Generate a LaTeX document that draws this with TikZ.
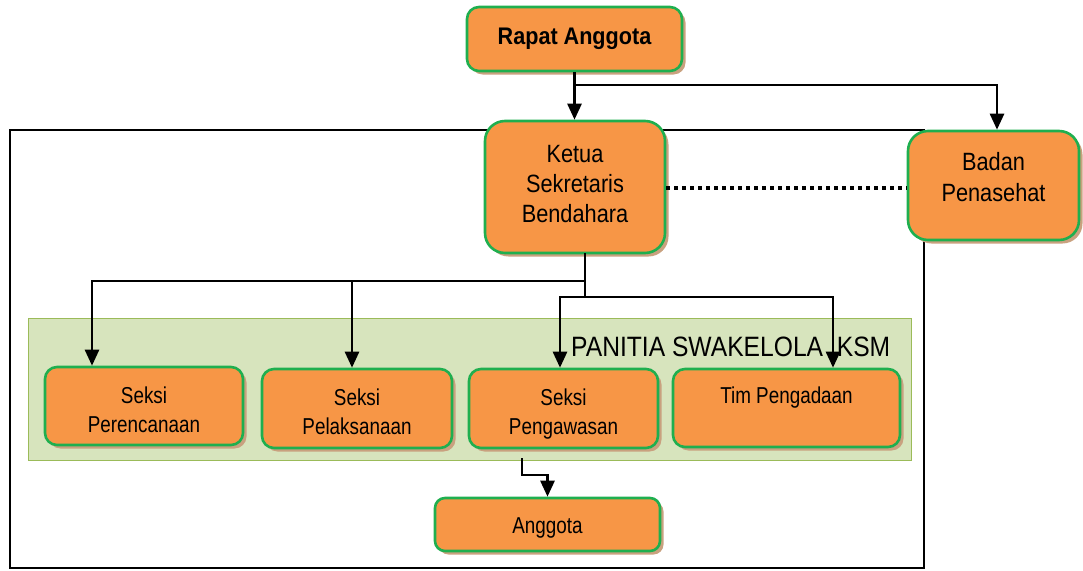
\documentclass[tikz,border=0pt]{standalone}
\usepackage{fontspec}
\setmainfont{Liberation Sans}[FakeStretch=0.82]
\newfontfamily\bigfont{Liberation Sans}[FakeStretch=0.87]
\newfontfamily\boldfont{Liberation Sans}[FakeStretch=0.9]
\newfontfamily\widefont{Liberation Sans}[FakeStretch=0.88]
\usetikzlibrary{shadows,arrows.meta}
\definecolor{boxfill}{HTML}{F79646}
\definecolor{boxline}{HTML}{1FAF4F}
\definecolor{shad}{HTML}{C9A17F}
\definecolor{panelfill}{HTML}{D7E4BD}
\definecolor{panelline}{HTML}{9BBB59}
\newcommand\tst[1]{\rule{0pt}{#1pt}}
\newcommand\bst[1]{\rule[-#1pt]{0pt}{0pt}}
\begin{document}
\begin{tikzpicture}[x=1pt,y=-1pt,
  box/.style={draw=boxline, line width=2.6pt, fill=boxfill, rounded corners=#1,
    drop shadow={shadow xshift=3.5pt, shadow yshift=-3.5pt, fill=shad, opacity=1},
    inner sep=0pt, align=center, text=black},
  box/.default=12pt,
  small/.style={font=\fontsize{23}{29}\selectfont},
  big/.style={font=\bigfont\fontsize{25}{30}\selectfont},
  panel/.style={draw=panelline, line width=0.8pt, fill=panelfill, inner sep=0pt},
  conn/.style={line width=2.6pt, black},
  arr/.style={conn, -{Triangle[width=14pt,length=16pt]}},
  dots/.style={line width=4pt, dash pattern=on 4pt off 4pt}
]
\useasboundingbox (0,0) rectangle (1083,570);
% outer frame
\draw[line width=1.3pt] (10,130) rectangle (924,568);
% panel
\node[panel, minimum width=883pt, minimum height=142pt] (panel) at (469.5,389) {};
\node[anchor=base west, inner sep=0pt, font=\widefont\fontsize{28}{30}\selectfont] (paneltxt) at (571,356) {PANITIA SWAKELOLA \ KSM};
% nodes
\node[box, minimum width=215pt, minimum height=64pt, font=\boldfont\bfseries\fontsize{24}{28}\selectfont, text height=20pt, text depth=10pt] (rapat) at (574.5,39) {Rapat Anggota};
\node[box=20pt, big, minimum width=180pt, minimum height=132pt] (ketua) at (575,187) {\tst{24}Ketua\\Sekretaris\\Bendahara\bst{14}};
\node[box=20pt, big, minimum width=171pt, minimum height=109pt, font=\bigfont\fontsize{25}{31.5}\selectfont] (badan) at (993.5,185.5) {\tst{20}Badan\\Penasehat\bst{19}};
\node[box, small, minimum width=198pt, minimum height=78pt] (perenc) at (144,406) {\tst{28}Seksi\\Perencanaan\bst{5}};
\node[box, small, minimum width=190pt, minimum height=79pt] (pelak) at (357,408.5) {\tst{28}Seksi\\Pelaksanaan\bst{5}};
\node[box, small, minimum width=189pt, minimum height=79pt] (pengaw) at (563.5,408.5) {\tst{28}Seksi\\Pengawasan\bst{5}};
\node[box, small, minimum width=227pt, minimum height=78pt, text height=17.5pt, text depth=26.5pt] (tim) at (786.5,408) {Tim Pengadaan};
\node[box=10pt, small, minimum width=225pt, minimum height=53pt, text height=22pt, text depth=5pt] (anggota) at (547.5,524.5) {Anggota};
% junctions
\coordinate (j1) at (574.5,85);
\coordinate (k0) at (585,253);
\coordinate (k1) at (585,281);
\coordinate (k2) at (585,297);
\coordinate (p1) at (522,458);
\coordinate (p2) at (522,475);
% connectors
\draw[arr] (rapat.south) -- (rapat.south |- ketua.north);
\draw[arr] (j1) -| ([xshift=3.5pt]badan.north);
\draw[dots] (ketua.east |- 0,188) -- (badan.west |- 0,188);
\draw[conn] (k0) -- (k2);
\draw[arr] (k1) -| ([xshift=-52pt]perenc.north);
\draw[arr] ([xshift=-5pt]pelak.north |- k1) -- ([xshift=-5pt]pelak.north);
\draw[arr] (k2) -| ([xshift=-3.5pt]pengaw.north);
\draw[arr] (k2) -| ([xshift=46.5pt]tim.north);
\draw[arr] (p1) -- (p2) -| (anggota.north);
\end{tikzpicture}
\end{document}
